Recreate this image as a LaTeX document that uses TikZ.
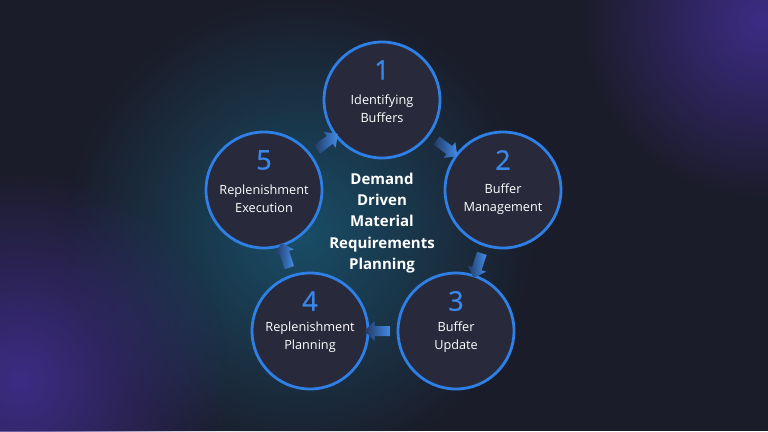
\documentclass[tikz,border=0pt]{standalone}
\usepackage{fontspec}
\setmainfont{Open Sans}
\newfontfamily\numfont{Open Sans}[FakeBold=0.8]
\usetikzlibrary{calc,shapes.arrows,fadings}
\definecolor{bg}{HTML}{1B1C29}
\definecolor{circfill}{HTML}{282A3C}
\definecolor{ringblue}{HTML}{2E7FE6}
\definecolor{numblue}{HTML}{3A88EC}
\definecolor{tealglow}{HTML}{194E68}
\definecolor{purpleglow}{HTML}{3D2C85}
\tikzfading[name=glowfade, inner color=transparent!0, outer color=transparent!100]
\tikzset{
  stage/.style={circle, draw=ringblue, line width=2.8pt, fill=circfill, minimum size=116pt, inner sep=0pt},
  numtxt/.style={text=numblue, font=\numfont\fontsize{27}{30}\selectfont, inner sep=0pt},
  lbltxt/.style={text=white, font=\fontsize{12.7}{18}\selectfont, align=center, inner sep=0pt},
  titletxt/.style={text=white, font=\bfseries\fontsize{15}{21.2}\selectfont, align=center, inner sep=0pt},
  flow/.style={single arrow, minimum height=26pt, minimum width=20pt, inner sep=4.8pt,
    single arrow head extend=5pt, left color=ringblue!30!bg, right color=ringblue!90!white, draw=none}
}
\begin{document}
\begin{tikzpicture}[x=1pt,y=-1pt]
\fill[bg] (0,0) rectangle (768,431);
\useasboundingbox (0,0) rectangle (768,431);
\begin{scope}
\clip (0,0) rectangle (768,431);
\fill[tealglow, path fading=glowfade] (300,232) circle (235);
\fill[purpleglow, path fading=glowfade] (760,20) circle (180);
\fill[purpleglow, path fading=glowfade] (20,380) circle (210);
\end{scope}

\node[stage] (c1) at (382,100) {};
\node[stage] (c2) at (503,190) {};
\node[stage] (c3) at (456,331) {};
\node[stage] (c4) at (310,331) {};
\node[stage] (c5) at (264,190) {};

\foreach \a/\b in {c1/c2,c2/c3,c3/c4,c4/c5,c5/c1}
  \path let \p1=($(\b)-(\a)$), \n1={atan2(\y1,\x1)} in
    node[flow, rotate=\n1] (ar\a) at ($(\a)!0.52!(\b)$) {};

\node[numtxt] (n1) at ($(c1)+(0,-30)$) {1};
\node[numtxt] (n2) at ($(c2)+(0,-30)$) {2};
\node[numtxt] (n3) at ($(c3)+(0,-30)$) {3};
\node[numtxt] (n4) at ($(c4)+(0,-30)$) {4};
\node[numtxt] (n5) at ($(c5)+(0,-30)$) {5};

\node[lbltxt] (l1) at ($(c1)+(0,9)$) {Identifying\\Buffers};
\node[lbltxt] (l2) at ($(c2)+(0,9)$) {Buffer\\Management};
\node[lbltxt] (l3) at ($(c3)+(0,6)$) {Buffer\\Update};
\node[lbltxt] (l4) at ($(c4)+(0,6)$) {Replenishment\\Planning};
\node[lbltxt] (l5) at ($(c5)+(0,9)$) {Replenishment\\Execution};

\node[titletxt] (title) at (382,223) {Demand\\Driven\\Material\\Requirements\\Planning};
\end{tikzpicture}
\end{document}
